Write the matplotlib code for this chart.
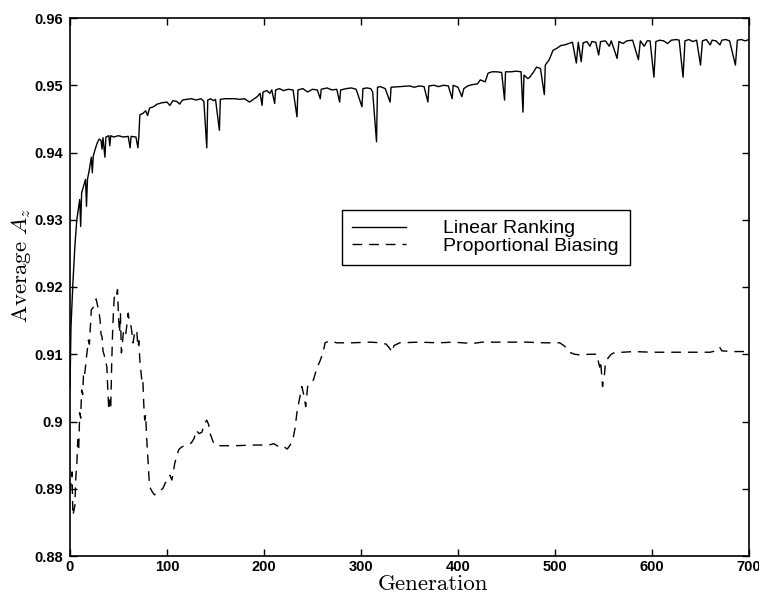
import matplotlib
matplotlib.use("Agg")
import matplotlib.pyplot as plt

# ---------------- data ----------------
x_ticks = [0, 100, 200, 300, 400, 500, 600, 700]
x_tick_labels = ["0", "100", "200", "300", "400", "500", "600", "700"]
y_ticks = [0.88, 0.89, 0.90, 0.91, 0.92, 0.93, 0.94, 0.95, 0.96]
y_tick_labels = ["0.88", "0.89", "0.9", "0.91", "0.92", "0.93", "0.94", "0.95", "0.96"]

series_labels = ["Linear Ranking", "Proportional Biasing"]

lr_gen = [0, 1, 3, 5, 7, 9, 10, 11, 12, 14, 16, 17, 18, 20, 22, 23, 24, 26, 28, 30,
          32, 33, 34, 36, 37, 40, 41, 42, 45, 50, 55, 60, 62, 63, 68, 70, 71, 72, 75, 78,
          80, 82, 86, 90, 95, 100, 103, 106, 110, 113, 116, 120, 125, 130, 135, 138, 141, 142, 145, 148,
          150, 154, 155, 160, 165, 170, 175, 180, 185, 190, 193, 196, 198, 199, 203, 206, 208, 211, 212, 216,
          220, 225, 230, 234, 235, 240, 245, 250, 255, 258, 259, 265, 270, 275, 278, 279, 285, 290, 295, 301,
          302, 306, 310, 312, 316, 317, 320, 325, 330, 331, 340, 350, 355, 360, 365, 369, 370, 375, 380, 385,
          390, 394, 395, 400, 404, 406, 410, 415, 420, 423, 428, 431, 435, 440, 445, 448, 449, 455, 460, 465,
          467, 468, 472, 474, 478, 481, 485, 489, 490, 494, 498, 502, 506, 510, 514, 518, 522, 524, 527, 529,
          533, 536, 538, 542, 545, 547, 552, 556, 558, 564, 566, 570, 574, 580, 586, 588, 592, 595, 598, 602,
          604, 608, 612, 616, 620, 625, 628, 632, 634, 638, 642, 646, 650, 652, 656, 660, 662, 666, 670, 672,
          676, 680, 686, 688, 692, 696, 700]
lr_val = [0.905, 0.914, 0.9206, 0.926, 0.930, 0.932, 0.933, 0.929, 0.934, 0.935, 0.936, 0.932, 0.936, 0.9375, 0.9393, 0.937, 0.9395, 0.9405, 0.9414, 0.9420,
          0.9418, 0.9405, 0.9422, 0.9393, 0.9423, 0.9425, 0.9410, 0.9425, 0.9423, 0.9425, 0.9423, 0.9424, 0.9407, 0.9424, 0.9423, 0.9407, 0.9424, 0.9456, 0.9458, 0.9462,
          0.9455, 0.9466, 0.9468, 0.9472, 0.9474, 0.9475, 0.9470, 0.9477, 0.9476, 0.9472, 0.9478, 0.9479, 0.9480, 0.9478, 0.9480, 0.9476, 0.9407, 0.9478, 0.9480, 0.9477,
          0.9479, 0.9433, 0.9479, 0.9480, 0.9480, 0.9480, 0.9479, 0.9480, 0.9475, 0.9480, 0.9483, 0.9488, 0.9470, 0.9490, 0.9492, 0.9488, 0.9493, 0.9473, 0.9493, 0.9495,
          0.9492, 0.9494, 0.9493, 0.9453, 0.9493, 0.9495, 0.9490, 0.9494, 0.9493, 0.9480, 0.9494, 0.9496, 0.9493, 0.9494, 0.9475, 0.9493, 0.9495, 0.9496, 0.9494, 0.9468,
          0.9495, 0.9496, 0.9495, 0.9490, 0.9416, 0.9497, 0.9498, 0.9495, 0.9475, 0.9497, 0.9498, 0.9499, 0.9497, 0.9499, 0.9498, 0.9475, 0.9499, 0.9500, 0.9498, 0.9500,
          0.9499, 0.9480, 0.9500, 0.9497, 0.9483, 0.9495, 0.9499, 0.9501, 0.9502, 0.9508, 0.9505, 0.9518, 0.9520, 0.9520, 0.9519, 0.9478, 0.9520, 0.9520, 0.9521, 0.9520,
          0.9460, 0.9515, 0.9510, 0.9512, 0.9520, 0.9527, 0.9525, 0.9486, 0.9530, 0.9538, 0.9552, 0.9555, 0.9559, 0.9560, 0.9562, 0.9564, 0.9533, 0.9564, 0.9535, 0.9563,
          0.9565, 0.9558, 0.9565, 0.9564, 0.9545, 0.9565, 0.9566, 0.9558, 0.9566, 0.9540, 0.9565, 0.9562, 0.9566, 0.9567, 0.9538, 0.9566, 0.9558, 0.9566, 0.9566, 0.9512,
          0.9565, 0.9567, 0.9566, 0.9562, 0.9567, 0.9568, 0.9567, 0.9512, 0.9566, 0.9568, 0.9565, 0.9567, 0.9530, 0.9566, 0.9568, 0.9560, 0.9567, 0.9566, 0.9560, 0.9567,
          0.9568, 0.9566, 0.9530, 0.9567, 0.9568, 0.9566, 0.9568]

pb_gen = [0, 2, 3, 5, 6, 7, 8, 9, 10, 11, 12, 13, 14, 15, 17, 19, 20, 22, 24, 27,
          28, 30, 31, 32, 33, 34, 36, 38, 39, 40, 41, 42, 43, 44, 45, 46, 48, 49, 50, 51,
          52, 53, 55, 57, 58, 60, 61, 63, 64, 65, 67, 69, 70, 71, 72, 74, 75, 76, 77, 78,
          79, 81, 82, 85, 87, 89, 91, 93, 96, 98, 100, 103, 105, 106, 108, 112, 115, 120, 125, 128,
          130, 133, 136, 138, 141, 143, 144, 148, 150, 155, 170, 190, 205, 210, 216, 220, 224, 227, 230, 232,
          234, 237, 239, 241, 243, 245, 248, 251, 254, 258, 261, 263, 268, 275, 290, 310, 320, 326, 330, 332,
          334, 340, 360, 380, 395, 405, 415, 425, 445, 470, 490, 505, 510, 515, 520, 526, 535, 543, 546, 547,
          549, 551, 552, 555, 558, 562, 570, 581, 600, 620, 640, 660, 668, 670, 672, 685, 700]
pb_val = [0.8894, 0.8925, 0.8860, 0.8875, 0.8917, 0.8935, 0.8973, 0.8960, 0.9013, 0.9005, 0.9047, 0.9040, 0.9072, 0.9068, 0.9096, 0.9121, 0.9115, 0.9166, 0.9170, 0.9182,
          0.9175, 0.9162, 0.9151, 0.9130, 0.9126, 0.9105, 0.9095, 0.9081, 0.9047, 0.9017, 0.9032, 0.9020, 0.9087, 0.9136, 0.9170, 0.9191, 0.9188, 0.9196, 0.9156, 0.9132,
          0.9160, 0.9102, 0.9132, 0.9126, 0.9136, 0.9161, 0.9150, 0.9141, 0.9130, 0.9117, 0.9136, 0.9132, 0.9111, 0.9120, 0.9091, 0.9062, 0.9065, 0.9027, 0.9002, 0.9010,
          0.8977, 0.8928, 0.8903, 0.8895, 0.8891, 0.8893, 0.8894, 0.8897, 0.8901, 0.8908, 0.8913, 0.8920, 0.8913, 0.8920, 0.8938, 0.8958, 0.8962, 0.8965, 0.8968, 0.8975,
          0.8987, 0.8982, 0.8984, 0.8995, 0.9002, 0.8995, 0.8984, 0.8968, 0.8965, 0.8964, 0.8964, 0.8965, 0.8965, 0.8967, 0.8962, 0.8963, 0.8959, 0.8965, 0.8975, 0.8990,
          0.9014, 0.9037, 0.9052, 0.9040, 0.9022, 0.9052, 0.9058, 0.9062, 0.9077, 0.9091, 0.9103, 0.9117, 0.9120, 0.9117, 0.9117, 0.9118, 0.9117, 0.9115, 0.9108, 0.9103,
          0.9113, 0.9117, 0.9118, 0.9117, 0.9118, 0.9117, 0.9116, 0.9118, 0.9118, 0.9118, 0.9117, 0.9117, 0.9112, 0.9103, 0.9100, 0.9099, 0.9100, 0.9100, 0.9081, 0.9090,
          0.9052, 0.9070, 0.9087, 0.9095, 0.9100, 0.9103, 0.9103, 0.9104, 0.9103, 0.9103, 0.9103, 0.9103, 0.9106, 0.9110, 0.9105, 0.9104, 0.9104]

# ---------------- plot ----------------
plt.rcParams["mathtext.fontset"] = "cm"
W, H = 759, 593
fig = plt.figure(figsize=(W / 100, H / 100), dpi=100)
ax = fig.add_axes([70 / W, 1 - 556 / H, (749 - 70) / W, (556 - 18) / H])

ax.plot(lr_gen, lr_val, color="black", lw=1.0, label=series_labels[0])
ax.plot(pb_gen, pb_val, color="black", lw=1.0, dashes=(7, 5), label=series_labels[1])

ax.set_xlim(0, 700)
ax.set_ylim(0.88, 0.96)
ax.set_xticks(x_ticks)
ax.set_xticklabels(x_tick_labels)
ax.set_yticks(y_ticks)
ax.set_yticklabels(y_tick_labels)
ax.tick_params(direction="in", top=True, right=True, length=5, width=1.0,
               labelsize=10.5, pad=3)
for lab in ax.get_xticklabels() + ax.get_yticklabels():
    lab.set_fontfamily("Liberation Sans")
    lab.set_fontweight("bold")
ax.tick_params(axis="y", pad=5)
for s in ax.spines.values():
    s.set_linewidth(1.2)

leg = ax.legend(loc="upper left",
                bbox_to_anchor=((342 - 70) / 679, (556 - 267) / 538, 288 / 679, 57 / 538),
                mode="expand", borderaxespad=0, fancybox=False, edgecolor="black",
                framealpha=1, prop={"family": "Liberation Sans", "size": 14},
                handlelength=2.8, handletextpad=1.9, labelspacing=0.0,
                borderpad=0.5)
leg.get_frame().set_linewidth(1.0)

fig.text(433 / W, 1 - 584 / H, "Generation", family="cmr10", fontsize=16.5,
         ha="center", va="center")
fig.text(21 / W, 1 - 266 / H, r"$\mathrm{Average}\ A_z$", fontsize=16.5,
         rotation=90, ha="center", va="center")

fig.savefig("out.png", dpi=100)
